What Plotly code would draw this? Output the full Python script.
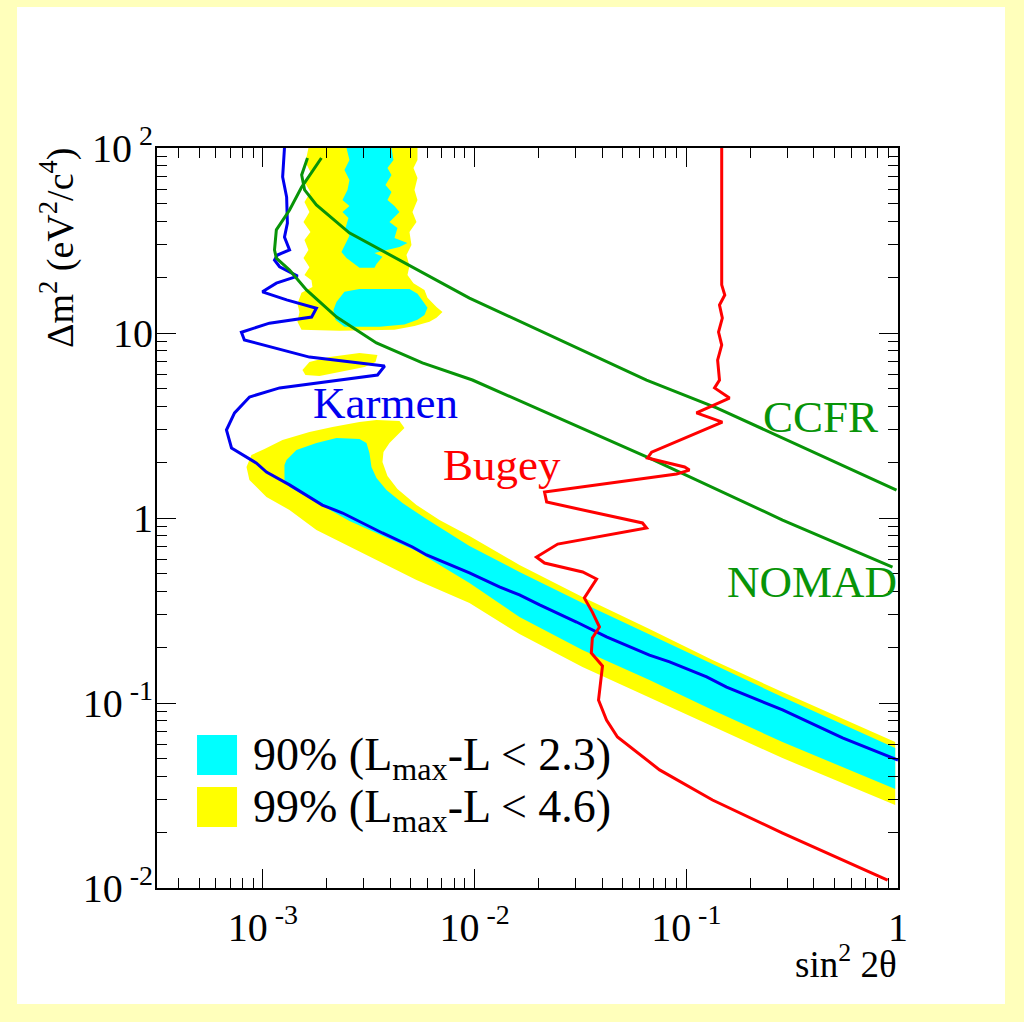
import plotly.graph_objects as go

# ---------------- exclusion / sensitivity curves ----------------
karmen_x = [1.265e-3, 1.24e-3, 1.295e-3, 1.306e-3, 1.265e-3, 1.337e-3, 1.172e-3, 1.135e-3,
            1.20e-3, 1.46e-3, 1.158e-3, 0.995e-3, 1.295e-3, 1.79e-3, 1.70e-3, 1.074e-3,
            0.792e-3, 0.818e-3, 1.66e-3, 3.76e-3, 3.48e-3, 1.20e-3, 0.865e-3, 0.735e-3,
            0.673e-3, 0.711e-3, 0.933e-3, 1.04e-3, 1.337e-3, 1.91e-3, 2.38e-3, 3.67e-3,
            5.09e-3, 5.93e-3, 9.46e-3, 1.31e-2, 1.63e-2, 2.03e-2, 3.03e-2, 4.20e-2,
            6.70e-2, 8.34e-2, 0.1248, 0.155, 0.285, 0.343, 0.547, 1.0]
karmen_y = [100, 69.7, 54.3, 39.3, 33.0, 28.1, 26.4, 24.8,
            22.8, 20.3, 18.6, 16.7, 15.1, 13.6, 12.2, 11.3,
            10.1, 9.17, 7.41, 6.63, 5.93, 5.05, 4.51, 3.70,
            2.99, 2.39, 1.98, 1.77, 1.51, 1.175, 1.064, 0.830,
            0.697, 0.631, 0.505, 0.424, 0.384, 0.339, 0.274, 0.2275,
            0.1815, 0.1667, 0.1383, 0.122, 0.0917, 0.0830, 0.0647, 0.0492]

bugey_x = [0.147, 0.147, 0.152, 0.1435, 0.148, 0.142, 0.147, 0.1406, 0.1435, 0.136,
           0.160, 0.1117, 0.148, 0.0686, 0.0656, 0.0982, 0.1035, 0.090, 0.0214, 0.0219,
           0.0621, 0.0649, 0.0247, 0.0196, 0.0214, 0.0324, 0.0377, 0.0330, 0.0360, 0.0389,
           0.0360, 0.0356, 0.0402, 0.0385, 0.0420, 0.0473, 0.0748, 0.133, 0.285, 0.893]
bugey_y = [100, 18.2, 16.05, 14.17, 12.05, 10.12, 8.61, 7.14, 5.57, 5.05,
           4.45, 3.70, 3.30, 2.27, 2.11, 1.888, 1.816, 1.728, 1.383, 1.219,
           0.940, 0.883, 0.723, 0.615, 0.571, 0.511, 0.468, 0.370, 0.310, 0.2576,
           0.2245, 0.1862, 0.1585, 0.1038, 0.0809, 0.0655, 0.0435, 0.0299, 0.0198, 0.01104]

ccfr_x = [1.625e-3, 1.525e-3, 1.575e-3, 1.79e-3, 2.56e-3, 4.43e-3, 9.46e-3, 0.0649, 0.139, 0.984]
ccfr_y = [88.3, 71.5, 59.3, 49.2, 34.8, 24.8, 15.45, 5.57, 3.94, 1.416]

nomad_x = [1.89e-3, 1.525e-3, 1.337e-3, 1.158e-3, 1.135e-3, 1.158e-3, 1.337e-3, 1.607e-3,
           2.23e-3, 3.44e-3, 5.67e-3, 9.77e-3, 0.067, 0.285, 0.942]
nomad_y = [88.3, 61.5, 46.2, 36.1, 28.1, 25.4, 21.9, 17.1,
           12.2, 8.83, 6.89, 5.57, 2.11, 0.975, 0.543]

# ---------------- allowed regions (99% and 90% contours) ----------------
c99_band_x = [0.837e-3, 0.883e-3, 1.018e-3, 1.238e-3, 1.660e-3, 2.132e-3, 2.860e-3, 3.441e-3,
              4.419e-3, 4.665e-3, 4.323e-3, 3.963e-3, 3.713e-3, 3.673e-3, 3.878e-3, 4.323e-3,
              5.316e-3, 6.827e-3, 9.46e-3, 0.0163, 0.03234, 0.0670, 0.1330, 0.2846, 0.97,
              0.97, 0.2846, 0.1330, 0.0670, 0.03234, 0.0163, 9.46e-3, 5.316e-3, 3.673e-3,
              2.565e-3, 1.791e-3, 1.336e-3, 1.040e-3, 0.864e-3]
c99_band_y = [1.887, 2.191, 2.360, 2.640, 2.917, 3.104, 3.303, 3.386,
              3.344, 3.066, 2.810, 2.543, 2.274, 2.007, 1.687, 1.435,
              1.176, 0.975, 0.799, 0.557, 0.374, 0.2512, 0.1708, 0.1147, 0.0615,
              0.0281, 0.0504, 0.0751, 0.1077, 0.1565, 0.2360, 0.347, 0.462, 0.571,
              0.697, 0.861, 1.105, 1.299, 1.605]

c99_top_x = [1.642e-3, 5.374e-3, 5.374e-3, 5.145e-3, 5.374e-3, 5.202e-3, 5.374e-3, 5.090e-3,
             5.316e-3, 4.926e-3, 5.035e-3, 4.768e-3, 4.926e-3, 4.820e-3, 5.145e-3, 5.799e-3,
             5.992e-3, 6.608e-3, 7.054e-3, 6.608e-3, 6.124e-3, 5.202e-3, 4.185e-3, 2.301e-3,
             1.522e-3, 1.457e-3, 1.489e-3, 1.457e-3, 1.522e-3, 1.715e-3, 1.697e-3, 1.572e-3,
             1.660e-3, 1.555e-3, 1.642e-3, 1.572e-3, 1.678e-3, 1.555e-3, 1.660e-3, 1.572e-3,
             1.678e-3, 1.572e-3, 1.678e-3, 1.589e-3]
c99_top_y = [100, 100, 86.1, 78.0, 68.8, 59.3, 52.4, 45.1,
             39.8, 35.2, 29.9, 26.4, 23.0, 20.6, 18.6, 17.1,
             15.5, 13.8, 13.0, 12.1, 11.5, 10.9, 10.4, 10.3,
             10.4, 11.5, 13.0, 14.4, 16.5, 17.7, 19.3, 20.6,
             22.7, 25.4, 28.1, 31.8, 35.2, 39.8, 45.1, 51.1,
             57.8, 65.5, 74.2, 84.0]

c99_isle_x = [1.538e-3, 1.660e-3, 2.064e-3, 2.860e-3, 3.478e-3, 3.404e-3, 3.020e-3, 2.301e-3,
              1.851e-3, 1.589e-3]
c99_isle_y = [6.31, 6.97, 7.42, 7.80, 7.61, 6.97, 6.55, 6.16, 5.86, 5.93]

c90_band_x = [1.265e-3, 1.265e-3, 1.293e-3, 1.441e-3, 1.791e-3, 2.227e-3, 2.860e-3, 3.086e-3,
              3.188e-3, 3.258e-3, 3.441e-3, 3.836e-3, 4.565e-3, 5.927e-3, 9.46e-3, 0.0163,
              0.03234, 0.0670, 0.1330, 0.2846, 0.97,
              0.97, 0.2846, 0.1330, 0.0670, 0.03234, 0.0163, 9.46e-3, 5.316e-3, 2.565e-3,
              1.607e-3, 1.336e-3]
c90_band_y = [1.605, 1.934, 2.058, 2.331, 2.543, 2.707, 2.673, 2.543,
              2.246, 1.887, 1.645, 1.417, 1.205, 0.988, 0.706, 0.511,
              0.347, 0.2360, 0.1625, 0.1077, 0.0571,
              0.0343, 0.0615, 0.0917, 0.1331, 0.1934, 0.2916, 0.445, 0.663, 0.963,
              1.299, 1.471]

c90_top_x = [2.483e-3, 2.565e-3, 2.429e-3, 2.565e-3, 2.510e-3, 2.377e-3, 2.565e-3, 2.377e-3,
             2.537e-3, 2.456e-3, 2.565e-3, 2.483e-3, 2.351e-3, 2.483e-3, 2.650e-3, 2.860e-3,
             3.367e-3, 3.441e-3, 3.673e-3, 3.367e-3, 4.419e-3, 4.820e-3, 4.185e-3, 4.323e-3,
             3.963e-3, 4.419e-3, 4.185e-3, 3.878e-3, 4.051e-3, 3.794e-3, 4.051e-3, 3.878e-3,
             4.140e-3, 4.051e-3]
c90_top_y = [100, 86.1, 76.1, 67.1, 59.3, 52.4, 48.6, 45.1,
             41.9, 37.0, 33.5, 31.0, 27.4, 25.4, 23.9, 22.5,
             22.5, 23.6, 25.8, 27.1, 29.2, 30.7, 32.6, 37.0,
             39.8, 45.1, 48.6, 52.4, 57.8, 63.1, 71.5, 78.0,
             86.1, 100]

c90_blob_x = [2.429e-3, 2.860e-3, 4.926e-3, 5.374e-3, 5.737e-3, 5.992e-3, 5.799e-3, 5.374e-3,
              4.665e-3, 3.555e-3, 2.429e-3, 2.203e-3, 2.155e-3, 2.227e-3]
c90_blob_y = [16.7, 17.3, 17.3, 16.3, 14.7, 13.7, 12.5, 11.8,
              11.1, 10.8, 10.8, 11.8, 13.3, 14.7]

# axis tick values and their labels
x_tickvals = [1e-3, 1e-2, 1e-1, 1]
x_ticktext = ["10<sup> -3</sup>", "10<sup> -2</sup>", "10<sup> -1</sup>", "1"]
y_tickvals = [1e-2, 1e-1, 1, 10, 100]
y_ticktext = ["10<sup> -2</sup>", "10<sup> -1</sup>", "1", "10", "10<sup> 2</sup>"]

CYAN = "#00FFFF"
YELLOW = "#FFFF00"
BLUE = "#0000F0"
RED = "#FF0000"
GREEN = "#089408"
FONT = "Liberation Serif, Times New Roman, serif"

fig = go.Figure()


def region(xs, ys, color):
    fig.add_trace(go.Scatter(x=xs, y=ys, mode="lines", fill="toself", fillcolor=color,
                             line=dict(width=0, color=color), hoverinfo="skip",
                             showlegend=False))


def curve(xs, ys, color):
    fig.add_trace(go.Scatter(x=xs, y=ys, mode="lines", line=dict(width=3, color=color),
                             hoverinfo="skip", showlegend=False))


region(c99_band_x, c99_band_y, YELLOW)
region(c99_top_x, c99_top_y, YELLOW)
region(c99_isle_x, c99_isle_y, YELLOW)
region(c90_band_x, c90_band_y, CYAN)
region(c90_top_x, c90_top_y, CYAN)
region(c90_blob_x, c90_blob_y, CYAN)

curve(karmen_x, karmen_y, BLUE)
curve(ccfr_x, ccfr_y, GREEN)
curve(nomad_x, nomad_y, GREEN)
curve(bugey_x, bugey_y, RED)

axis_common = dict(
    type="log", showgrid=False, zeroline=False,
    showline=True, linecolor="black", linewidth=2, mirror="allticks",
    ticks="inside", ticklen=19, tickwidth=1, tickcolor="black",
    tickfont=dict(family=FONT, size=40, color="black"),
    minor=dict(ticks="inside", ticklen=10, tickwidth=1, tickcolor="black",
               dtick="D1", showgrid=False),
)

fig.update_xaxes(range=[-3.5, 0], tickvals=x_tickvals, ticktext=x_ticktext,
                 ticklabelstandoff=3, **axis_common)
fig.update_yaxes(range=[-2, 2], tickvals=y_tickvals, ticktext=y_ticktext,
                 ticklabelstandoff=-6, **axis_common)

annotations = [
    dict(text="Karmen", x=0.2078, y=0.6554, xanchor="left", yanchor="middle",
         font=dict(family=FONT, size=45, color=BLUE)),
    dict(text="Bugey", x=0.3833, y=0.5716, xanchor="left", yanchor="middle",
         font=dict(family=FONT, size=45, color=RED)),
    dict(text="CCFR", x=0.8151, y=0.6365, xanchor="left", yanchor="middle",
         font=dict(family=FONT, size=45, color=GREEN)),
    dict(text="NOMAD", x=1.0013, y=0.4135, xanchor="right", yanchor="middle",
         font=dict(family=FONT, size=45, color=GREEN)),
    dict(text="90% (L<sub>max</sub>-L &lt; 2.3)", x=0.1269, y=0.1757,
         xanchor="left", yanchor="middle", font=dict(family=FONT, size=46, color="black")),
    dict(text="99% (L<sub>max</sub>-L &lt; 4.6)", x=0.1269, y=0.1054,
         xanchor="left", yanchor="middle", font=dict(family=FONT, size=46, color="black")),
    dict(text="sin<sup>2</sup> 2θ", x=1.0013, y=-0.1338, xanchor="right", yanchor="bottom",
         font=dict(family=FONT, size=37, color="black")),
    dict(text="Δm<sup>2</sup> (eV<sup>2</sup>/c<sup>4</sup>)", x=-0.135, y=1.0027,
         xanchor="center", yanchor="top", textangle=-90,
         font=dict(family=FONT, size=38, color="black")),
]
for a in annotations:
    a.update(xref="paper", yref="paper", showarrow=False)

shapes = [
    # white canvas inside the pale frame
    dict(type="rect", xref="paper", yref="paper", x0=-0.1889, x1=1.1444, y0=-0.1568,
         y1=1.1905, fillcolor="white", line=dict(width=0), layer="below"),
    # legend swatches
    dict(type="rect", xref="paper", yref="paper", x0=0.054, x1=0.108, y0=0.1527, y1=0.2068,
         fillcolor=CYAN, line=dict(width=0), layer="above"),
    dict(type="rect", xref="paper", yref="paper", x0=0.054, x1=0.108, y0=0.0824, y1=0.1365,
         fillcolor=YELLOW, line=dict(width=0), layer="above"),
]

fig.update_layout(
    width=1024, height=1022,
    margin=dict(l=157, r=126, t=148, b=134),
    paper_bgcolor="#FFFFBB", plot_bgcolor="white",
    showlegend=False,
    annotations=annotations, shapes=shapes,
    font=dict(family=FONT, color="black"),
)

fig.write_html("out.html")
